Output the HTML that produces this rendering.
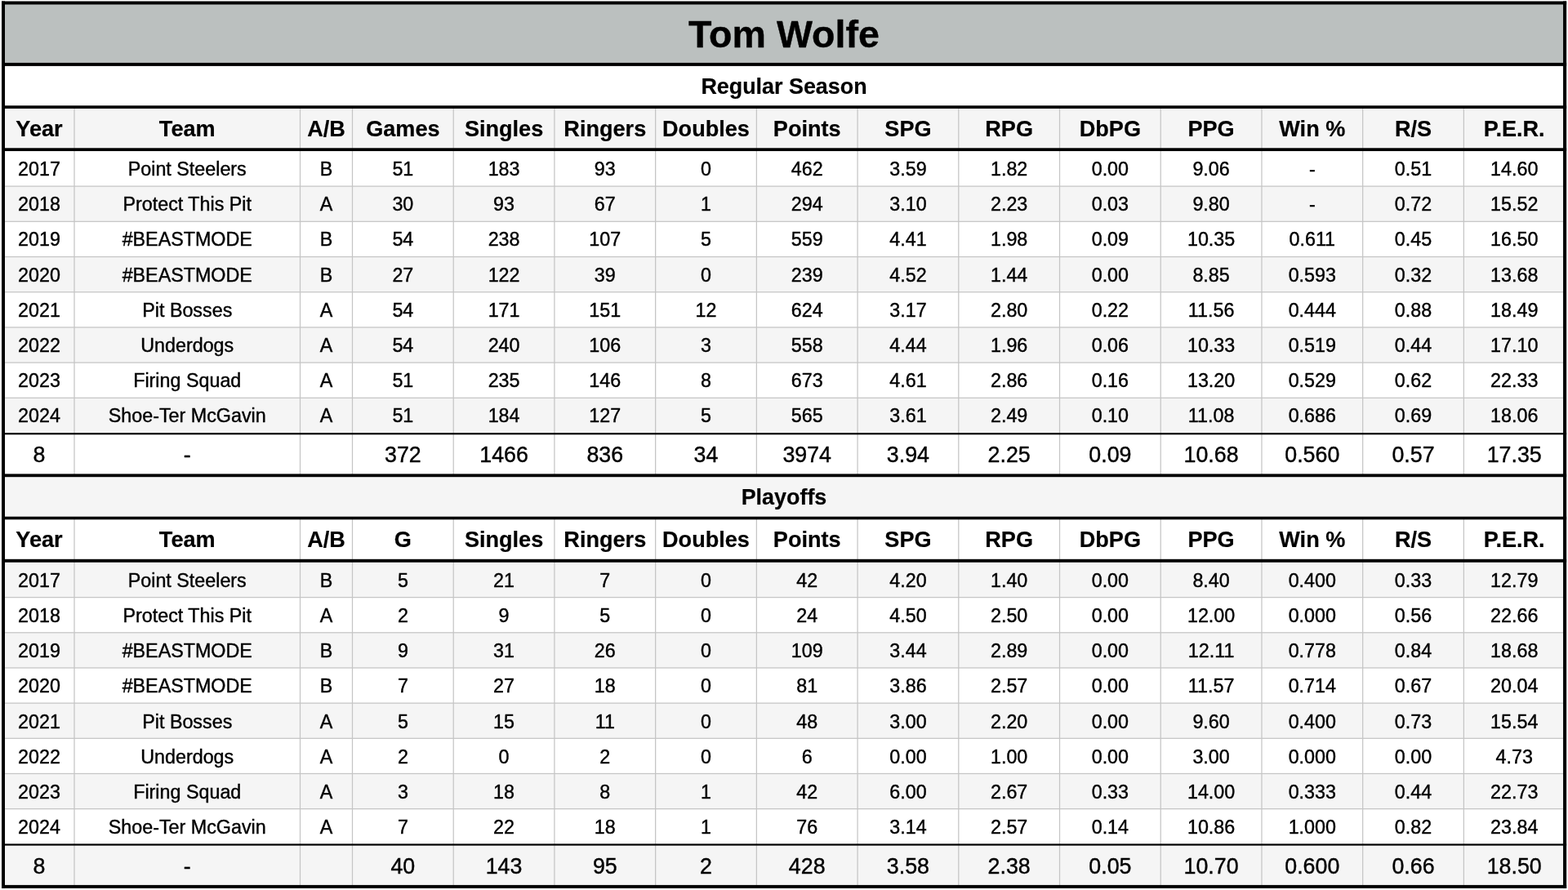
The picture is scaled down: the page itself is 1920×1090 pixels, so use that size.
<!DOCTYPE html>
<html lang="en">
<head>
<meta charset="utf-8">
<title>Tom Wolfe</title>
<style>
html,body{margin:0;padding:0;background:#fff}
body{width:1920px;height:1090px;position:relative;overflow:hidden;font-family:"Liberation Sans",Arial,Helvetica,sans-serif;color:#000}
.a{position:absolute}
.row{position:absolute;left:0;width:1920px;white-space:nowrap}
.row span{position:absolute;top:0;text-align:center;display:block;height:100%}
.t{font-weight:bold;font-size:46.6px;-webkit-text-stroke:0.35px #000;text-align:center;left:4px;width:1912px;position:absolute}
.s{font-weight:bold;font-size:26.9px;-webkit-text-stroke:0.2px #000;text-align:center;left:4px;width:1912px;position:absolute}
.h{font-weight:bold;font-size:27.1px;-webkit-text-stroke:0.2px #000}
.d{font-size:23.3px;-webkit-text-stroke:0.4px #000}
.tt{font-size:26.8px;-webkit-text-stroke:0.4px #000}

.c0{left:6px;width:84px}
.c1{left:91px;width:276.5px}
.c2{left:367.5px;width:64px}
.c3{left:431.5px;width:123.72px}
.c4{left:555.22px;width:123.71px}
.c5{left:678.93px;width:123.72px}
.c6{left:802.65px;width:123.72px}
.c7{left:926.37px;width:123.71px}
.c8{left:1050.08px;width:123.72px}
.c9{left:1173.8px;width:123.72px}
.c10{left:1297.52px;width:123.71px}
.c11{left:1421.23px;width:123.72px}
.c12{left:1544.95px;width:123.72px}
.c13{left:1668.67px;width:123.71px}
.c14{left:1792.38px;width:123.72px}
</style>
</head>
<body>
<svg aria-hidden="true" class="a" style="left:0;top:0" width="1920" height="1090" viewBox="0 0 1920 1090">
<rect x="4" y="4" width="1912" height="75" fill="#bbc0bf"/>
<rect x="4" y="131" width="1912" height="52" fill="#f5f5f5"/>
<rect x="4" y="228.1" width="1912" height="43.2" fill="#f5f5f5"/>
<rect x="4" y="314.5" width="1912" height="43.2" fill="#f5f5f5"/>
<rect x="4" y="400.9" width="1912" height="43.2" fill="#f5f5f5"/>
<rect x="4" y="487.3" width="1912" height="43.2" fill="#f5f5f5"/>
<rect x="4" y="582" width="1912" height="52.5" fill="#f5f5f5"/>
<rect x="4" y="688.45" width="1912" height="43.17" fill="#f5f5f5"/>
<rect x="4" y="774.79" width="1912" height="43.17" fill="#f5f5f5"/>
<rect x="4" y="861.13" width="1912" height="43.17" fill="#f5f5f5"/>
<rect x="4" y="947.47" width="1912" height="43.17" fill="#f5f5f5"/>
<rect x="4" y="1034.5" width="1912" height="51.5" fill="#f5f5f5"/>
<g fill="#c5c5c5">
<rect x="4" y="227.48" width="1912" height="1.25" fill="#c5c5c5"/>
<rect x="4" y="270.68" width="1912" height="1.25" fill="#c5c5c5"/>
<rect x="4" y="313.88" width="1912" height="1.25" fill="#c5c5c5"/>
<rect x="4" y="357.08" width="1912" height="1.25" fill="#c5c5c5"/>
<rect x="4" y="400.27" width="1912" height="1.25" fill="#c5c5c5"/>
<rect x="4" y="443.48" width="1912" height="1.25" fill="#c5c5c5"/>
<rect x="4" y="486.68" width="1912" height="1.25" fill="#c5c5c5"/>
<rect x="4" y="731" width="1912" height="1.25" fill="#c5c5c5"/>
<rect x="4" y="774.17" width="1912" height="1.25" fill="#c5c5c5"/>
<rect x="4" y="817.34" width="1912" height="1.25" fill="#c5c5c5"/>
<rect x="4" y="860.51" width="1912" height="1.25" fill="#c5c5c5"/>
<rect x="4" y="903.68" width="1912" height="1.25" fill="#c5c5c5"/>
<rect x="4" y="946.85" width="1912" height="1.25" fill="#c5c5c5"/>
<rect x="4" y="990.02" width="1912" height="1.25" fill="#c5c5c5"/>
<rect x="90.38" y="131" width="1.25" height="451"/>
<rect x="90.38" y="634.5" width="1.25" height="451.5"/>
<rect x="366.88" y="131" width="1.25" height="451"/>
<rect x="366.88" y="634.5" width="1.25" height="451.5"/>
<rect x="430.88" y="131" width="1.25" height="451"/>
<rect x="430.88" y="634.5" width="1.25" height="451.5"/>
<rect x="554.6" y="131" width="1.25" height="451"/>
<rect x="554.6" y="634.5" width="1.25" height="451.5"/>
<rect x="678.3" y="131" width="1.25" height="451"/>
<rect x="678.3" y="634.5" width="1.25" height="451.5"/>
<rect x="802.02" y="131" width="1.25" height="451"/>
<rect x="802.02" y="634.5" width="1.25" height="451.5"/>
<rect x="925.75" y="131" width="1.25" height="451"/>
<rect x="925.75" y="634.5" width="1.25" height="451.5"/>
<rect x="1049.45" y="131" width="1.25" height="451"/>
<rect x="1049.45" y="634.5" width="1.25" height="451.5"/>
<rect x="1173.17" y="131" width="1.25" height="451"/>
<rect x="1173.17" y="634.5" width="1.25" height="451.5"/>
<rect x="1296.89" y="131" width="1.25" height="451"/>
<rect x="1296.89" y="634.5" width="1.25" height="451.5"/>
<rect x="1420.61" y="131" width="1.25" height="451"/>
<rect x="1420.61" y="634.5" width="1.25" height="451.5"/>
<rect x="1544.33" y="131" width="1.25" height="451"/>
<rect x="1544.33" y="634.5" width="1.25" height="451.5"/>
<rect x="1668.05" y="131" width="1.25" height="451"/>
<rect x="1668.05" y="634.5" width="1.25" height="451.5"/>
<rect x="1791.76" y="131" width="1.25" height="451"/>
<rect x="1791.76" y="634.5" width="1.25" height="451.5"/>
</g>
<g fill="#000">
<rect x="2" y="1.5" width="1916.15" height="4"/>
<rect x="2" y="76.9" width="1916.15" height="4"/>
<rect x="2" y="129.3" width="1916.15" height="3.7"/>
<rect x="2" y="181.3" width="1916.15" height="3.75"/>
<rect x="2" y="530.1" width="1916.15" height="2.2"/>
<rect x="2" y="580.4" width="1916.15" height="3.8"/>
<rect x="2" y="632.7" width="1916.15" height="3.6"/>
<rect x="2" y="684.8" width="1916.15" height="3.95"/>
<rect x="2" y="1033.4" width="1916.15" height="2.2"/>
<rect x="2" y="1083.9" width="1916.15" height="4"/>
<rect x="2" y="1.5" width="4" height="1086.4"/>
<rect x="1914.05" y="1.5" width="4.1" height="1086.4"/>
</g>
</svg>
<div role="heading" class="t" style="top:4.9px;height:75px;line-height:75px">Tom Wolfe</div>
<div role="heading" class="s" style="top:80.3px;height:52px;line-height:52px">Regular Season</div>
<div role="row" class="row h" style="top:132.3px;height:52px;line-height:52px"><span role="columnheader" class="c0">Year</span><span role="columnheader" class="c1">Team</span><span role="columnheader" class="c2">A/B</span><span role="columnheader" class="c3">Games</span><span role="columnheader" class="c4">Singles</span><span role="columnheader" class="c5">Ringers</span><span role="columnheader" class="c6">Doubles</span><span role="columnheader" class="c7">Points</span><span role="columnheader" class="c8">SPG</span><span role="columnheader" class="c9">RPG</span><span role="columnheader" class="c10">DbPG</span><span role="columnheader" class="c11">PPG</span><span role="columnheader" class="c12">Win %</span><span role="columnheader" class="c13">R/S</span><span role="columnheader" class="c14">P.E.R.</span></div>
<div role="row" class="row d" style="top:186px;height:43px;line-height:43px"><span role="cell" class="c0">2017</span><span role="cell" class="c1">Point Steelers</span><span role="cell" class="c2">B</span><span role="cell" class="c3">51</span><span role="cell" class="c4">183</span><span role="cell" class="c5">93</span><span role="cell" class="c6">0</span><span role="cell" class="c7">462</span><span role="cell" class="c8">3.59</span><span role="cell" class="c9">1.82</span><span role="cell" class="c10">0.00</span><span role="cell" class="c11">9.06</span><span role="cell" class="c12">-</span><span role="cell" class="c13">0.51</span><span role="cell" class="c14">14.60</span></div>
<div role="row" class="row d" style="top:229px;height:43px;line-height:43px"><span role="cell" class="c0">2018</span><span role="cell" class="c1">Protect This Pit</span><span role="cell" class="c2">A</span><span role="cell" class="c3">30</span><span role="cell" class="c4">93</span><span role="cell" class="c5">67</span><span role="cell" class="c6">1</span><span role="cell" class="c7">294</span><span role="cell" class="c8">3.10</span><span role="cell" class="c9">2.23</span><span role="cell" class="c10">0.03</span><span role="cell" class="c11">9.80</span><span role="cell" class="c12">-</span><span role="cell" class="c13">0.72</span><span role="cell" class="c14">15.52</span></div>
<div role="row" class="row d" style="top:272px;height:43px;line-height:43px"><span role="cell" class="c0">2019</span><span role="cell" class="c1">#BEASTMODE</span><span role="cell" class="c2">B</span><span role="cell" class="c3">54</span><span role="cell" class="c4">238</span><span role="cell" class="c5">107</span><span role="cell" class="c6">5</span><span role="cell" class="c7">559</span><span role="cell" class="c8">4.41</span><span role="cell" class="c9">1.98</span><span role="cell" class="c10">0.09</span><span role="cell" class="c11">10.35</span><span role="cell" class="c12">0.611</span><span role="cell" class="c13">0.45</span><span role="cell" class="c14">16.50</span></div>
<div role="row" class="row d" style="top:316px;height:43px;line-height:43px"><span role="cell" class="c0">2020</span><span role="cell" class="c1">#BEASTMODE</span><span role="cell" class="c2">B</span><span role="cell" class="c3">27</span><span role="cell" class="c4">122</span><span role="cell" class="c5">39</span><span role="cell" class="c6">0</span><span role="cell" class="c7">239</span><span role="cell" class="c8">4.52</span><span role="cell" class="c9">1.44</span><span role="cell" class="c10">0.00</span><span role="cell" class="c11">8.85</span><span role="cell" class="c12">0.593</span><span role="cell" class="c13">0.32</span><span role="cell" class="c14">13.68</span></div>
<div role="row" class="row d" style="top:359px;height:43px;line-height:43px"><span role="cell" class="c0">2021</span><span role="cell" class="c1">Pit Bosses</span><span role="cell" class="c2">A</span><span role="cell" class="c3">54</span><span role="cell" class="c4">171</span><span role="cell" class="c5">151</span><span role="cell" class="c6">12</span><span role="cell" class="c7">624</span><span role="cell" class="c8">3.17</span><span role="cell" class="c9">2.80</span><span role="cell" class="c10">0.22</span><span role="cell" class="c11">11.56</span><span role="cell" class="c12">0.444</span><span role="cell" class="c13">0.88</span><span role="cell" class="c14">18.49</span></div>
<div role="row" class="row d" style="top:402px;height:43px;line-height:43px"><span role="cell" class="c0">2022</span><span role="cell" class="c1">Underdogs</span><span role="cell" class="c2">A</span><span role="cell" class="c3">54</span><span role="cell" class="c4">240</span><span role="cell" class="c5">106</span><span role="cell" class="c6">3</span><span role="cell" class="c7">558</span><span role="cell" class="c8">4.44</span><span role="cell" class="c9">1.96</span><span role="cell" class="c10">0.06</span><span role="cell" class="c11">10.33</span><span role="cell" class="c12">0.519</span><span role="cell" class="c13">0.44</span><span role="cell" class="c14">17.10</span></div>
<div role="row" class="row d" style="top:445px;height:43px;line-height:43px"><span role="cell" class="c0">2023</span><span role="cell" class="c1">Firing Squad</span><span role="cell" class="c2">A</span><span role="cell" class="c3">51</span><span role="cell" class="c4">235</span><span role="cell" class="c5">146</span><span role="cell" class="c6">8</span><span role="cell" class="c7">673</span><span role="cell" class="c8">4.61</span><span role="cell" class="c9">2.86</span><span role="cell" class="c10">0.16</span><span role="cell" class="c11">13.20</span><span role="cell" class="c12">0.529</span><span role="cell" class="c13">0.62</span><span role="cell" class="c14">22.33</span></div>
<div role="row" class="row d" style="top:488px;height:43px;line-height:43px"><span role="cell" class="c0">2024</span><span role="cell" class="c1">Shoe-Ter McGavin</span><span role="cell" class="c2">A</span><span role="cell" class="c3">51</span><span role="cell" class="c4">184</span><span role="cell" class="c5">127</span><span role="cell" class="c6">5</span><span role="cell" class="c7">565</span><span role="cell" class="c8">3.61</span><span role="cell" class="c9">2.49</span><span role="cell" class="c10">0.10</span><span role="cell" class="c11">11.08</span><span role="cell" class="c12">0.686</span><span role="cell" class="c13">0.69</span><span role="cell" class="c14">18.06</span></div>
<div role="row" class="row tt" style="top:532.1px;height:51.2px;line-height:51.2px"><span role="cell" class="c0">8</span><span role="cell" class="c1">-</span><span role="cell" class="c3">372</span><span role="cell" class="c4">1466</span><span role="cell" class="c5">836</span><span role="cell" class="c6">34</span><span role="cell" class="c7">3974</span><span role="cell" class="c8">3.94</span><span role="cell" class="c9">2.25</span><span role="cell" class="c10">0.09</span><span role="cell" class="c11">10.68</span><span role="cell" class="c12">0.560</span><span role="cell" class="c13">0.57</span><span role="cell" class="c14">17.35</span></div>
<div role="heading" class="s" style="top:583.3px;height:52.5px;line-height:52.5px">Playoffs</div>
<div role="row" class="row h" style="top:634.8px;height:52.5px;line-height:52.5px"><span role="columnheader" class="c0">Year</span><span role="columnheader" class="c1">Team</span><span role="columnheader" class="c2">A/B</span><span role="columnheader" class="c3">G</span><span role="columnheader" class="c4">Singles</span><span role="columnheader" class="c5">Ringers</span><span role="columnheader" class="c6">Doubles</span><span role="columnheader" class="c7">Points</span><span role="columnheader" class="c8">SPG</span><span role="columnheader" class="c9">RPG</span><span role="columnheader" class="c10">DbPG</span><span role="columnheader" class="c11">PPG</span><span role="columnheader" class="c12">Win %</span><span role="columnheader" class="c13">R/S</span><span role="columnheader" class="c14">P.E.R.</span></div>
<div role="row" class="row d" style="top:690px;height:43px;line-height:43px"><span role="cell" class="c0">2017</span><span role="cell" class="c1">Point Steelers</span><span role="cell" class="c2">B</span><span role="cell" class="c3">5</span><span role="cell" class="c4">21</span><span role="cell" class="c5">7</span><span role="cell" class="c6">0</span><span role="cell" class="c7">42</span><span role="cell" class="c8">4.20</span><span role="cell" class="c9">1.40</span><span role="cell" class="c10">0.00</span><span role="cell" class="c11">8.40</span><span role="cell" class="c12">0.400</span><span role="cell" class="c13">0.33</span><span role="cell" class="c14">12.79</span></div>
<div role="row" class="row d" style="top:733px;height:43px;line-height:43px"><span role="cell" class="c0">2018</span><span role="cell" class="c1">Protect This Pit</span><span role="cell" class="c2">A</span><span role="cell" class="c3">2</span><span role="cell" class="c4">9</span><span role="cell" class="c5">5</span><span role="cell" class="c6">0</span><span role="cell" class="c7">24</span><span role="cell" class="c8">4.50</span><span role="cell" class="c9">2.50</span><span role="cell" class="c10">0.00</span><span role="cell" class="c11">12.00</span><span role="cell" class="c12">0.000</span><span role="cell" class="c13">0.56</span><span role="cell" class="c14">22.66</span></div>
<div role="row" class="row d" style="top:776px;height:43px;line-height:43px"><span role="cell" class="c0">2019</span><span role="cell" class="c1">#BEASTMODE</span><span role="cell" class="c2">B</span><span role="cell" class="c3">9</span><span role="cell" class="c4">31</span><span role="cell" class="c5">26</span><span role="cell" class="c6">0</span><span role="cell" class="c7">109</span><span role="cell" class="c8">3.44</span><span role="cell" class="c9">2.89</span><span role="cell" class="c10">0.00</span><span role="cell" class="c11">12.11</span><span role="cell" class="c12">0.778</span><span role="cell" class="c13">0.84</span><span role="cell" class="c14">18.68</span></div>
<div role="row" class="row d" style="top:819px;height:43px;line-height:43px"><span role="cell" class="c0">2020</span><span role="cell" class="c1">#BEASTMODE</span><span role="cell" class="c2">B</span><span role="cell" class="c3">7</span><span role="cell" class="c4">27</span><span role="cell" class="c5">18</span><span role="cell" class="c6">0</span><span role="cell" class="c7">81</span><span role="cell" class="c8">3.86</span><span role="cell" class="c9">2.57</span><span role="cell" class="c10">0.00</span><span role="cell" class="c11">11.57</span><span role="cell" class="c12">0.714</span><span role="cell" class="c13">0.67</span><span role="cell" class="c14">20.04</span></div>
<div role="row" class="row d" style="top:863px;height:43px;line-height:43px"><span role="cell" class="c0">2021</span><span role="cell" class="c1">Pit Bosses</span><span role="cell" class="c2">A</span><span role="cell" class="c3">5</span><span role="cell" class="c4">15</span><span role="cell" class="c5">11</span><span role="cell" class="c6">0</span><span role="cell" class="c7">48</span><span role="cell" class="c8">3.00</span><span role="cell" class="c9">2.20</span><span role="cell" class="c10">0.00</span><span role="cell" class="c11">9.60</span><span role="cell" class="c12">0.400</span><span role="cell" class="c13">0.73</span><span role="cell" class="c14">15.54</span></div>
<div role="row" class="row d" style="top:906px;height:43px;line-height:43px"><span role="cell" class="c0">2022</span><span role="cell" class="c1">Underdogs</span><span role="cell" class="c2">A</span><span role="cell" class="c3">2</span><span role="cell" class="c4">0</span><span role="cell" class="c5">2</span><span role="cell" class="c6">0</span><span role="cell" class="c7">6</span><span role="cell" class="c8">0.00</span><span role="cell" class="c9">1.00</span><span role="cell" class="c10">0.00</span><span role="cell" class="c11">3.00</span><span role="cell" class="c12">0.000</span><span role="cell" class="c13">0.00</span><span role="cell" class="c14">4.73</span></div>
<div role="row" class="row d" style="top:949px;height:43px;line-height:43px"><span role="cell" class="c0">2023</span><span role="cell" class="c1">Firing Squad</span><span role="cell" class="c2">A</span><span role="cell" class="c3">3</span><span role="cell" class="c4">18</span><span role="cell" class="c5">8</span><span role="cell" class="c6">1</span><span role="cell" class="c7">42</span><span role="cell" class="c8">6.00</span><span role="cell" class="c9">2.67</span><span role="cell" class="c10">0.33</span><span role="cell" class="c11">14.00</span><span role="cell" class="c12">0.333</span><span role="cell" class="c13">0.44</span><span role="cell" class="c14">22.73</span></div>
<div role="row" class="row d" style="top:992px;height:43px;line-height:43px"><span role="cell" class="c0">2024</span><span role="cell" class="c1">Shoe-Ter McGavin</span><span role="cell" class="c2">A</span><span role="cell" class="c3">7</span><span role="cell" class="c4">22</span><span role="cell" class="c5">18</span><span role="cell" class="c6">1</span><span role="cell" class="c7">76</span><span role="cell" class="c8">3.14</span><span role="cell" class="c9">2.57</span><span role="cell" class="c10">0.14</span><span role="cell" class="c11">10.86</span><span role="cell" class="c12">1.000</span><span role="cell" class="c13">0.82</span><span role="cell" class="c14">23.84</span></div>
<div role="row" class="row tt" style="top:1035.8px;height:51.5px;line-height:51.5px"><span role="cell" class="c0">8</span><span role="cell" class="c1">-</span><span role="cell" class="c3">40</span><span role="cell" class="c4">143</span><span role="cell" class="c5">95</span><span role="cell" class="c6">2</span><span role="cell" class="c7">428</span><span role="cell" class="c8">3.58</span><span role="cell" class="c9">2.38</span><span role="cell" class="c10">0.05</span><span role="cell" class="c11">10.70</span><span role="cell" class="c12">0.600</span><span role="cell" class="c13">0.66</span><span role="cell" class="c14">18.50</span></div>
</body>
</html>
